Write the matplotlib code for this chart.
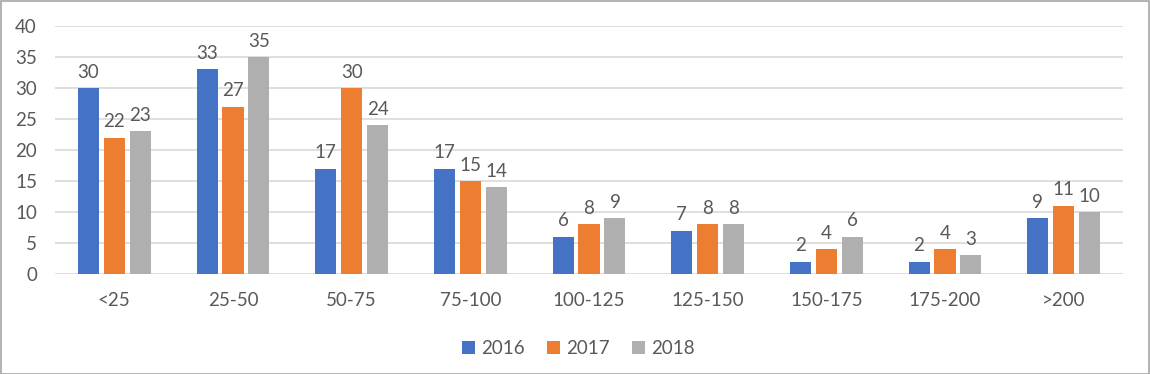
import matplotlib
matplotlib.use("Agg")
import matplotlib.pyplot as plt
import numpy as np
from matplotlib.patches import Rectangle

categories = ["<25", "25-50", "50-75", "75-100", "100-125", "125-150", "150-175", "175-200", ">200"]
years = ["2016", "2017", "2018"]
v2016 = [30, 33, 17, 17, 6, 7, 2, 2, 9]
v2017 = [22, 27, 30, 15, 8, 8, 4, 4, 11]
v2018 = [23, 35, 24, 14, 9, 8, 6, 3, 10]
yticks = [0, 5, 10, 15, 20, 25, 30, 35, 40]

colors = ["#4472C4", "#ED7D31", "#AFAFAF"]
txt = "#595959"
plt.rcParams['font.family'] = ['Lato', 'DejaVu Sans']
fs = 13.5

fig = plt.figure(figsize=(11.5, 3.74), dpi=100)
ax = fig.add_axes([55/1150, 1-274/374, (1123-55)/1150, (274-26)/374])
x = np.arange(len(categories))
w = 0.177
step = 0.219
for i, (vals, c, lab) in enumerate(zip([v2016, v2017, v2018], colors, years)):
    bars = ax.bar(x + (i-1)*step, vals, width=w, color=c, label=lab, zorder=3)
    for b, v in zip(bars, vals):
        ax.text(b.get_x()+b.get_width()/2, v + 1.2, str(v), ha='center', va='bottom',
                fontsize=fs, color=txt)
ax.set_xlim(-0.5, len(categories)-0.5)
ax.set_ylim(0, 40)
ax.set_yticks(yticks)
ax.yaxis.grid(True, color="#D9D9D9", linewidth=1.2, zorder=0)
for s in ax.spines.values():
    s.set_visible(False)
ax.tick_params(axis='both', length=0, labelsize=fs, colors=txt)
ax.tick_params(axis='x', pad=13)
ax.tick_params(axis='y', pad=13)
ax.set_xticks(x)
ax.set_xticklabels(categories)
leg = ax.legend(loc='upper center', bbox_to_anchor=(0.49, -0.2), ncol=3, frameon=False,
                fontsize=fs, handlelength=0.7, handleheight=0.7, columnspacing=1.2,
                handletextpad=0.3, labelcolor=txt)
fig.patches.append(Rectangle((0.5/1150, 0.5/374), 1-1.5/1150, 1-1.5/374, transform=fig.transFigure,
                             fill=False, edgecolor="#A6A6A6", linewidth=1.2))
fig.savefig("out.png", dpi=100)
